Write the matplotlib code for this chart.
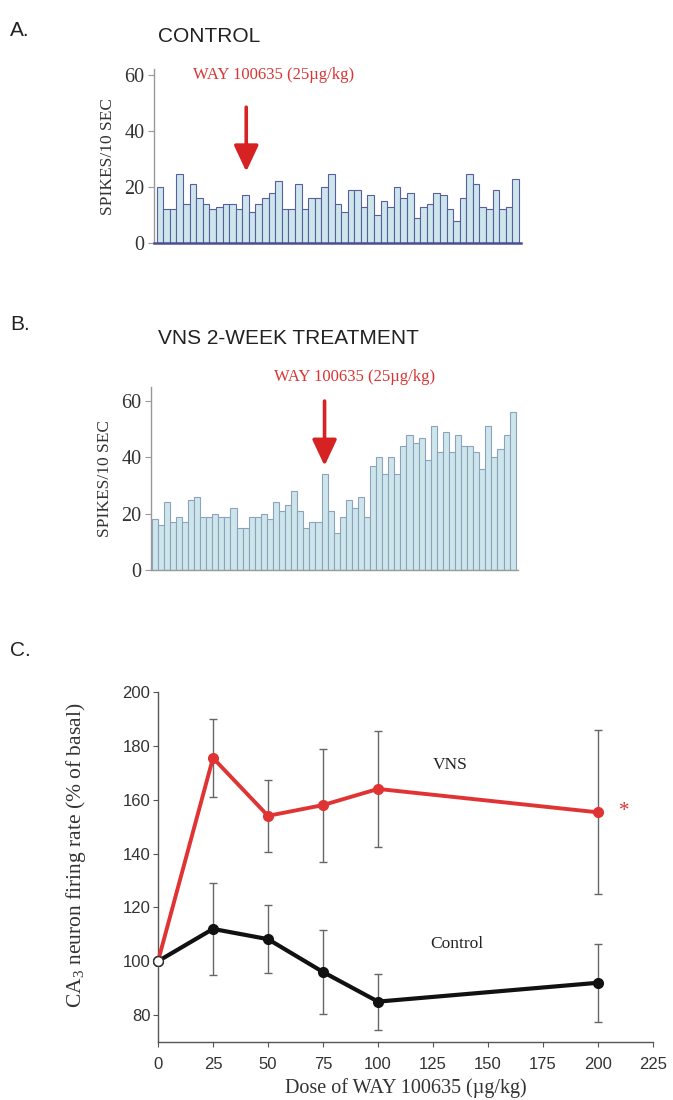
import matplotlib
matplotlib.use("Agg")
import matplotlib.pyplot as plt
import numpy as np

# ---- data ----
control_counts = [20, 12, 12, 24.5, 14, 21, 16, 14, 12, 13, 14, 14, 12, 17, 11, 14, 16, 18, 22, 12,
                  12, 21, 12, 16, 16, 20, 24.5, 14, 11, 19, 19, 13, 17, 10, 15, 13, 20, 16, 18, 9,
                  13, 14, 18, 17, 12, 8, 16, 24.5, 21, 13, 12, 19, 12, 13, 23]
vns_counts = [18, 16, 24, 17, 19, 17, 25, 26, 19, 19, 20, 19, 19, 22, 15, 15, 19, 19, 20, 18,
              24, 21, 23, 28, 21, 15, 17, 17, 34, 21, 13, 19, 25, 22, 26, 19, 37, 40, 34, 40,
              34, 44, 48, 45, 47, 39, 51, 42, 49, 42, 48, 44, 44, 42, 36, 51, 40, 43, 48, 56]
hist_yticks = [0, 20, 40, 60]
control_inject_bin = 13.6
vns_inject_bin = 28.5

doses = [0, 25, 50, 75, 100, 200]
vns_mean = [100, 175.5, 154, 158, 164, 155.3]
vns_err = [0, 14.5, 13.5, 21, 21.7, 30.5]
ctrl_mean = [100, 112, 108.2, 96, 85, 92]
ctrl_err = [0, 17, 12.7, 15.5, 10.4, 14.5]
c_xticks = [0, 25, 50, 75, 100, 125, 150, 175, 200, 225]
c_yticks = [80, 100, 120, 140, 160, 180, 200]

SERIF = "Liberation Serif"
SANS = "Liberation Sans"
RED = "#d93535"
ARROW = "#d62222"

plt.rcParams["mathtext.fontset"] = "custom"
plt.rcParams["mathtext.rm"] = SERIF
plt.rcParams["mathtext.it"] = SERIF + ":italic"
plt.rcParams["mathtext.bf"] = SERIF + ":bold"
plt.rcParams["mathtext.default"] = "rm"

fig = plt.figure(figsize=(6.73, 11.0), dpi=100)
W, H = 673, 1100

def ax_px(left, top, right, bottom):
    return fig.add_axes([left / W, 1 - bottom / H, (right - left) / W, (bottom - top) / H])

def hist_axes(ax, counts, ymax, edge, base_color, base_lw, elw):
    x = np.arange(len(counts))
    ax.bar(x, counts, width=1.0, align="edge", color="#cde6ec", edgecolor=edge, linewidth=elw)
    ax.set_ylim(0, ymax)
    for s in ["top", "right"]:
        ax.spines[s].set_visible(False)
    ax.spines["left"].set_color("#999999")
    ax.spines["left"].set_linewidth(1.0)
    ax.spines["bottom"].set_color(base_color)
    ax.spines["bottom"].set_linewidth(base_lw)
    ax.set_xticks([])
    ax.set_yticks(hist_yticks)
    ax.tick_params(axis="y", direction="out", length=4, color="#999999", labelsize=14.5,
                   pad=3, labelcolor="#333333")
    for t in ax.get_yticklabels():
        t.set_fontfamily(SERIF)
    ax.set_ylabel("SPIKES/10 SEC", fontfamily=SERIF, fontsize=12.5, color="#333333", labelpad=6)

arrow_style = "-|>,head_width=0.75,head_length=1.6"

# Panel A
axA = ax_px(154, 69.4, 521, 243)
hist_axes(axA, control_counts, 62, "#5a5e9c", "#4b4f8f", 1.8, 0.8)
axA.set_xlim(-0.4, len(control_counts) + 0.3)
axA.annotate("", xy=(control_inject_bin, 25.5), xytext=(control_inject_bin, 48.5),
             arrowprops=dict(arrowstyle=arrow_style, color=ARROW, lw=2.6, shrinkA=0, shrinkB=0))
axA.text(0.105, 60, "WAY 100635 (25µg/kg)", transform=axA.get_yaxis_transform(), fontfamily=SERIF,
         fontsize=12, color=RED, va="center", ha="left")
fig.text(10 / W, 1 - 30 / H, "A.", fontfamily=SANS, fontsize=15, va="center", color="#222222")
fig.text(158 / W, 1 - 37 / H, "CONTROL", fontfamily=SANS, fontsize=15, va="center", color="#222222")

# Panel B
axB = ax_px(151, 387, 515.7 + 0.3 * 6.07, 570)
hist_axes(axB, vns_counts, 65, "#8ea3bb", "#999999", 1.0, 0.8)
axB.set_xlim(-0.1, len(vns_counts) + 0.3)
axB.annotate("", xy=(vns_inject_bin, 37), xytext=(vns_inject_bin, 60),
             arrowprops=dict(arrowstyle=arrow_style, color=ARROW, lw=2.6, shrinkA=0, shrinkB=0))
axB.text(0.335, 68.5, "WAY 100635 (25µg/kg)", transform=axB.get_yaxis_transform(), fontfamily=SERIF,
         fontsize=12, color=RED, va="center", ha="left", clip_on=False)
fig.text(10 / W, 1 - 325 / H, "B.", fontfamily=SANS, fontsize=15, va="center", color="#222222")
fig.text(158 / W, 1 - 338 / H, "VNS 2-WEEK TREATMENT", fontfamily=SANS, fontsize=15, va="center",
         color="#222222")

# Panel C
axC = ax_px(158, 692, 653, 1042)
axC.errorbar(doses[1:], vns_mean[1:], yerr=vns_err[1:], fmt="none", ecolor="#666666", elinewidth=1.0,
             capsize=3, capthick=1.0, zorder=2)
axC.errorbar(doses[1:], ctrl_mean[1:], yerr=ctrl_err[1:], fmt="none", ecolor="#666666", elinewidth=1.0,
             capsize=3, capthick=1.0, zorder=2)
axC.plot(doses, vns_mean, color="#e03434", lw=2.8, marker="o", markersize=7, zorder=3, clip_on=False)
axC.plot(doses, ctrl_mean, color="#111111", lw=3.0, marker="o", markersize=7, zorder=3, clip_on=False)
axC.plot([doses[0]], [ctrl_mean[0]], marker="o", markersize=7, markerfacecolor="white",
         markeredgecolor="#333333", markeredgewidth=1.0, zorder=5, clip_on=False)
axC.set_xlim(0, 225)
axC.set_ylim(70, 200)
axC.set_xticks(c_xticks)
axC.set_yticks(c_yticks)
for s in ["top", "right"]:
    axC.spines[s].set_visible(False)
for s in ["left", "bottom"]:
    axC.spines[s].set_color("#555555")
    axC.spines[s].set_linewidth(1.0)
axC.tick_params(direction="out", length=3.5, color="#555555", labelsize=12, labelcolor="#333333", pad=2)
for t in axC.get_xticklabels() + axC.get_yticklabels():
    t.set_fontfamily(SANS)
axC.tick_params(axis="x", pad=7)
axC.set_xlabel("Dose of WAY 100635 (µg/kg)", fontfamily=SERIF, fontsize=14.5, color="#333333", labelpad=5)
axC.set_ylabel("CA$_3$ neuron firing rate (% of basal)", fontfamily=SERIF, fontsize=15.5, color="#333333")
axC.yaxis.set_label_coords(-0.142, 0.534)
axC.text(133, 173, "VNS", fontfamily=SERIF, fontsize=12.5, ha="center", va="center", color="#222222")
axC.text(136, 106.5, "Control", fontfamily=SERIF, fontsize=12.5, ha="center", va="center", color="#222222")
axC.text(212, 155.5, "*", fontfamily=SERIF, fontsize=15, ha="center", va="center", color=RED)
fig.text(10 / W, 1 - 650 / H, "C.", fontfamily=SANS, fontsize=15, va="center", color="#222222")

fig.savefig("out.png", dpi=100)
